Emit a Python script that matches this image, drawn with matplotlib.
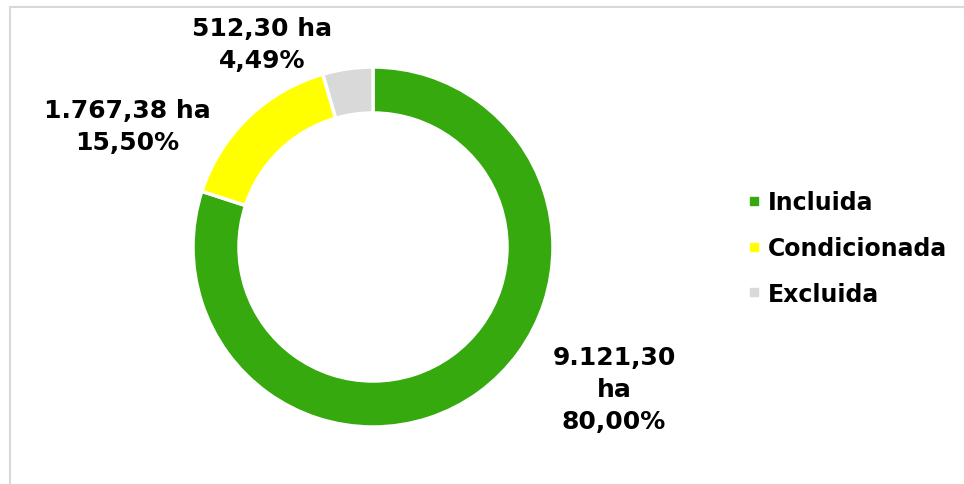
import matplotlib.pyplot as plt
from matplotlib.lines import Line2D
from matplotlib.patches import Rectangle

categorias = ["Incluida", "Condicionada", "Excluida"]
areas_ha = [9121.30, 1767.38, 512.30]
cores = ["#36A90E", "#FFFF00", "#D9D9D9"]


def fmt_br(v):
    s = f"{v:,.2f}"
    return s.replace(",", "X").replace(".", ",").replace("X", ".")


total = sum(areas_ha)
pcts = [a / total * 100 for a in areas_ha]
rotulos = [
    f"{fmt_br(areas_ha[0])}\nha\n{fmt_br(pcts[0])}%",
    f"{fmt_br(areas_ha[1])} ha\n{fmt_br(pcts[1])}%",
    f"{fmt_br(areas_ha[2])} ha\n{fmt_br(pcts[2])}%",
]
# posicoes dos rotulos (px a partir do canto superior esquerdo)
pos_rotulos = [(614, 390), (127, 127), (262, 45)]

W, H = 964, 485
fig = plt.figure(figsize=(W / 100, H / 100), dpi=100)
ax = fig.add_axes([0, 0, 1, 1])

cx, cy, r = 373, 248, 180
ax.pie(areas_ha, colors=cores, startangle=90, counterclock=False,
       center=(cx, H - cy), radius=r,
       wedgeprops=dict(width=46, edgecolor="white", linewidth=2.5))
ax.set_xlim(0, W)
ax.set_ylim(0, H)
ax.set_aspect("equal")
ax.axis("off")

for txt, (x, y) in zip(rotulos, pos_rotulos):
    ax.text(x, H - y, txt, ha="center", va="center", fontsize=18,
            fontweight="bold", color="black", linespacing=1.4)

# moldura cinza da area do grafico
ax.add_patch(Rectangle((10, -20), W + 20, H - 8 + 20, fill=False,
                       edgecolor="#D9D9D9", linewidth=1.5, clip_on=False))

handles = [Line2D([], [], marker="s", linestyle="none", markersize=6,
                  markerfacecolor=c, markeredgecolor=c) for c in cores]
ax.legend(handles, categorias, loc="center left", bbox_to_anchor=(737 / W, 1 - 249 / H),
          frameon=False, handlelength=0.6, handletextpad=0.3,
          labelspacing=0.92, borderaxespad=0,
          prop=dict(size=17, weight="bold"))

fig.savefig("out.png", dpi=100)
